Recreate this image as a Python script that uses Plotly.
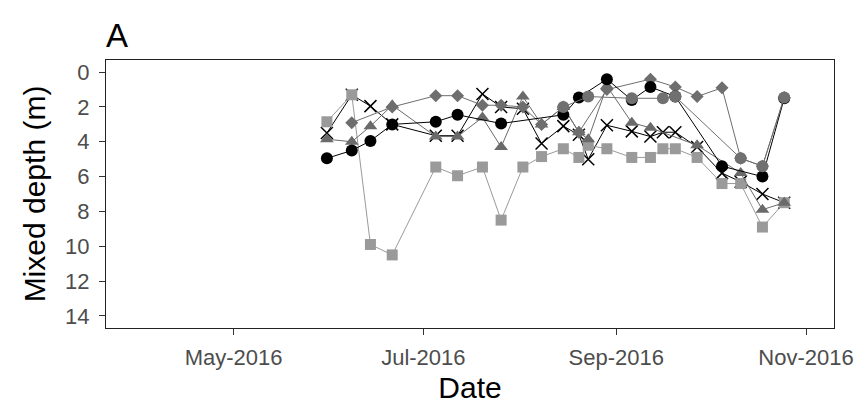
import plotly.graph_objects as go

dates = ["2016-05-31", "2016-06-08", "2016-06-14", "2016-06-21", "2016-07-05",
         "2016-07-12", "2016-07-20", "2016-07-26", "2016-08-02", "2016-08-08",
         "2016-08-15", "2016-08-20", "2016-08-23", "2016-08-29", "2016-09-06",
         "2016-09-12", "2016-09-16", "2016-09-20", "2016-09-27", "2016-10-05",
         "2016-10-11", "2016-10-18", "2016-10-25"]

squares = [2.85, 1.3, 9.9, 10.5, 5.45, 5.95, 5.45, 8.5, 5.45, 4.85,
           4.4, 4.9, 4.2, 4.4, 4.9, 4.9, 4.4, 4.4, 4.9, 6.4,
           6.4, 8.9, 7.5]
triangles = [3.85, 4.0, 3.1, 1.9, 3.7, 3.7, 2.6, 4.3, 1.4, 3.0,
             2.0, 3.45, 3.85, 0.8, 2.9, 3.2, None, None, 4.2, None,
             5.8, 7.9, 7.5]
crosses = [3.5, 1.3, 1.95, 3.0, 3.65, 3.65, 1.25, 2.0, 2.1, 4.1,
           3.1, 3.6, 5.0, 3.05, 3.4, 3.7, 3.45, 3.45, 4.3, 5.8,
           6.3, 7.0, 7.5]
diamonds = [None, 2.9, None, 2.0, 1.35, 1.35, 1.9, 1.9, 2.0, 3.0,
            2.0, 3.45, None, 1.0, None, 0.4, None, 0.85, 1.4, 0.9,
            4.95, 5.4, 1.45]
black_circles = [4.95, 4.5, 3.95, 3.0, 2.85, 2.45, None, 2.95, None, None,
                 2.45, 1.45, None, 0.4, 1.6, 0.85, None, 1.4, None, 5.4,
                 None, 6.0, 1.5]
grey_circles = [None, None, None, None, None, None, None, None, None, None,
                2.0, None, 1.4, None, 1.5, None, 1.5, 1.4, None, None,
                4.95, 5.4, 1.45]

tick_dates = ["2016-05-01", "2016-07-01", "2016-09-01", "2016-11-01"]
tick_labels = ["May-2016", "Jul-2016", "Sep-2016", "Nov-2016"]
y_ticks = [0, 2, 4, 6, 8, 10, 12, 14]

series = [
    ("Crosses", crosses, "x-thin", "#000000", "#000000", 12),
    ("Squares", squares, "square", "#9a9a9a", "#9a9a9a", 11),
    ("Triangles", triangles, "triangle-up", "#6a6a6a", "#6a6a6a", 12),
    ("Diamonds", diamonds, "diamond", "#6e6e6e", "#6e6e6e", 10),
    ("Black circles", black_circles, "circle", "#000000", "#000000", 12),
    ("Grey circles", grey_circles, "circle", "#707070", "#707070", 12),
]

FONT = "Liberation Sans, Arial, sans-serif"

fig = go.Figure()
for name, vals, sym, mcol, lcol, size in series:
    marker = dict(symbol=sym, size=size, color=mcol)
    if sym == "x-thin":
        marker["line"] = dict(color=mcol, width=1.5)
    fig.add_trace(go.Scatter(
        x=dates, y=vals, name=name, mode="lines+markers",
        connectgaps=True,
        line=dict(color=lcol, width=1),
        marker=marker,
        showlegend=False,
    ))

axis_common = dict(
    showline=True, linecolor="#222222", linewidth=1.3, mirror=True,
    ticks="outside", ticklen=6, tickcolor="#333333", tickwidth=1,
    showgrid=False, zeroline=False, automargin=False,
    tickfont=dict(family=FONT, size=22, color="#4d4d4d"),
)

fig.update_xaxes(
    range=["2016-03-21", "2016-11-10"],
    tickmode="array", tickvals=tick_dates, ticktext=tick_labels,
    ticklabelstandoff=3,
    title=dict(text="Date", font=dict(family=FONT, size=30, color="#000000"), standoff=8),
    **axis_common,
)
fig.update_yaxes(
    range=[14.7, -0.7],
    tickmode="array", tickvals=y_ticks,
    ticklabelstandoff=5,
    title=dict(text="Mixed depth (m)", font=dict(family=FONT, size=30, color="#000000"), standoff=10),
    **axis_common,
)

fig.add_annotation(
    text="A", xref="paper", yref="paper", x=-0.003, y=1.0,
    xanchor="left", yanchor="bottom", yshift=4, showarrow=False,
    font=dict(family=FONT, size=33, color="#000000"),
)

fig.update_layout(
    width=865, height=412,
    margin=dict(l=106, r=31, t=60, b=84),
    paper_bgcolor="white", plot_bgcolor="white",
)

fig.write_html("out.html", config={"displayModeBar": False},
               post_script="document.body.style.margin='0px';")
